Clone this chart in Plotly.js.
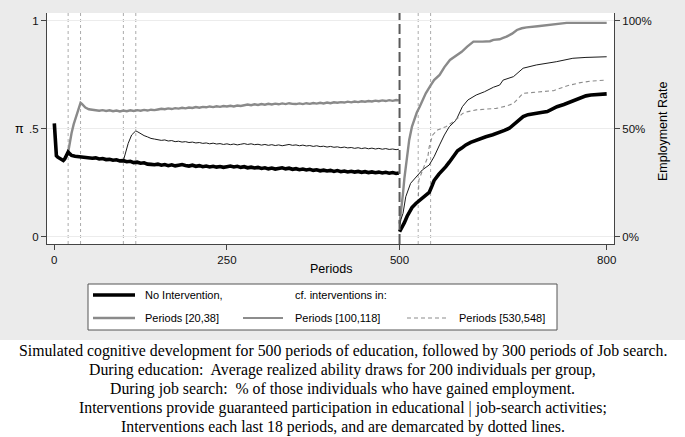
<!DOCTYPE html>
<html>
<head>
<meta charset="utf-8">
<script src="https://cdn.plot.ly/plotly-3.0.1.min.js"></script>
<style>html,body{margin:0;padding:0;background:#ffffff;}#chart{width:685px;height:437px;}</style>
</head>
<body>
<div id="chart"></div>
<script>
// ---------- DATA ----------
// Education phase (periods 0-499): average realized ability (pi)
const noIntEduX = [0,1,2,3,5,8,10,13,15,18,20,23,25,30,35,40,45,50,55,60,65,70,75,80,85,90,95,100,105,110,115,120,125,130,135,140,145,150,155,160,165,170,175,180,185,190,195,200,205,210,215,220,225,230,235,240,245,250,255,260,265,270,275,280,285,290,295,300,305,310,315,320,325,330,335,340,345,350,355,360,365,370,375,380,385,390,395,400,405,410,415,420,425,430,435,440,445,450,455,460,465,470,475,480,485,490,495,499];
const noIntEduY = [0.525,0.47,0.40,0.375,0.368,0.362,0.357,0.353,0.36,0.383,0.392,0.382,0.376,0.372,0.370,0.371,0.366,0.368,0.363,0.365,0.360,0.362,0.357,0.358,0.354,0.356,0.351,0.352,0.347,0.349,0.343,0.345,0.340,0.342,0.336,0.335,0.333,0.336,0.331,0.334,0.329,0.333,0.328,0.331,0.334,0.330,0.327,0.331,0.326,0.329,0.324,0.327,0.323,0.326,0.322,0.325,0.321,0.324,0.327,0.323,0.326,0.321,0.324,0.319,0.322,0.318,0.321,0.316,0.319,0.314,0.318,0.313,0.316,0.319,0.314,0.317,0.312,0.315,0.310,0.313,0.309,0.312,0.307,0.310,0.305,0.308,0.304,0.307,0.302,0.306,0.301,0.304,0.300,0.303,0.299,0.302,0.298,0.301,0.297,0.300,0.296,0.299,0.295,0.298,0.294,0.297,0.293,0.295];

const early20EduX = [20,22,25,28,31,34,37,38,40,43,45,50,55,60,65,70,75,80,85,90,95,100,105,110,115,120,125,130,135,140,145,150,155,160,165,170,175,180,185,190,195,200,205,210,215,220,225,230,235,240,245,250,255,260,265,270,275,280,285,290,295,300,305,310,315,320,325,330,335,340,345,350,355,360,365,370,375,380,385,390,395,400,405,410,415,420,425,430,435,440,445,450,455,460,465,470,475,480,485,490,495,499];
const early20EduY = [0.39,0.43,0.48,0.52,0.55,0.585,0.615,0.62,0.615,0.605,0.598,0.59,0.588,0.586,0.583,0.586,0.582,0.585,0.581,0.584,0.580,0.584,0.581,0.585,0.582,0.586,0.583,0.587,0.584,0.588,0.586,0.589,0.592,0.590,0.594,0.591,0.595,0.593,0.597,0.594,0.598,0.596,0.600,0.597,0.601,0.599,0.603,0.600,0.604,0.601,0.605,0.603,0.606,0.603,0.607,0.605,0.608,0.612,0.609,0.613,0.610,0.614,0.611,0.615,0.612,0.616,0.613,0.617,0.614,0.618,0.615,0.614,0.617,0.614,0.618,0.615,0.619,0.616,0.620,0.617,0.621,0.618,0.622,0.620,0.623,0.621,0.625,0.622,0.626,0.623,0.627,0.625,0.628,0.626,0.630,0.627,0.631,0.628,0.632,0.629,0.633,0.631];

const mid100EduX = [100,103,107,112,118,121,125,130,135,140,145,150,155,160,165,170,175,180,185,190,195,200,205,210,215,220,225,230,235,240,245,250,255,260,265,270,275,280,285,290,295,300,305,310,315,320,325,330,335,340,345,350,355,360,365,370,375,380,385,390,395,400,405,410,415,420,425,430,435,440,445,450,455,460,465,470,475,480,485,490,495,499];
const mid100EduY = [0.352,0.39,0.432,0.471,0.49,0.485,0.476,0.468,0.462,0.455,0.452,0.449,0.446,0.448,0.443,0.445,0.440,0.442,0.438,0.440,0.436,0.438,0.434,0.436,0.432,0.434,0.430,0.433,0.429,0.431,0.427,0.430,0.426,0.429,0.425,0.428,0.431,0.427,0.430,0.426,0.428,0.424,0.427,0.423,0.426,0.422,0.425,0.421,0.424,0.427,0.423,0.425,0.421,0.424,0.420,0.422,0.418,0.421,0.417,0.419,0.415,0.418,0.414,0.416,0.412,0.415,0.411,0.413,0.409,0.412,0.408,0.411,0.407,0.410,0.406,0.409,0.405,0.408,0.404,0.406,0.403,0.405];

// Job-search phase (periods 500-800): employment rate
const noIntJobX = [500,503,507,511,514,518,524,530,536,543,547,550,557,562,567,572,577,584,590,596,603,611,618,625,635,645,652,659,665,672,679,686,694,705,714,721,728,738,748,755,762,770,777,790,800];
const noIntJobY = [0.023,0.04,0.065,0.095,0.115,0.135,0.155,0.17,0.185,0.205,0.235,0.26,0.29,0.305,0.324,0.345,0.37,0.398,0.41,0.425,0.437,0.448,0.455,0.463,0.472,0.482,0.492,0.502,0.517,0.535,0.556,0.565,0.571,0.575,0.579,0.59,0.602,0.612,0.625,0.636,0.645,0.652,0.656,0.66,0.661];

const early20JobX = [500,502,505,507,510,514,518,521,525,529,534,538,545,550,558,565,573,581,590,598,607,620,631,636,645,650,655,663,670,677,684,700,713,728,742,800];
const early20JobY = [0.06,0.11,0.2,0.27,0.35,0.448,0.51,0.54,0.575,0.60,0.635,0.664,0.70,0.725,0.749,0.785,0.818,0.835,0.856,0.88,0.903,0.903,0.905,0.911,0.914,0.92,0.926,0.94,0.957,0.965,0.969,0.974,0.98,0.984,0.99,0.99];

const mid100JobX = [500,502,505,509,516,524,533,543,550,558,565,572,582,591,599,611,623,636,645,650,665,679,698,727,751,770,800];
const mid100JobY = [0.046,0.08,0.108,0.185,0.247,0.278,0.309,0.332,0.37,0.425,0.471,0.509,0.54,0.602,0.633,0.656,0.671,0.692,0.702,0.725,0.741,0.78,0.795,0.81,0.826,0.83,0.833];

const late530JobX = [527,528,533.5,541,543,548,555,567,574.5,584,591.5,599,611,625,640,655,665,679,700,723,742,760,776,800];
const late530JobY = [0.155,0.262,0.309,0.37,0.417,0.471,0.494,0.509,0.525,0.548,0.571,0.579,0.587,0.59,0.594,0.605,0.617,0.664,0.67,0.676,0.698,0.712,0.72,0.725];

// Intervention windows (dotted lines) and phase boundary
const interventionLines = [20,38,100,118,527,545];
const phaseBoundary = 500;

// Tick labels
const xTicks = [0,250,500,800];
const yTicks = [0,0.5,1];
const yTickLabels = ['0','.5','1'];
const y2TickLabels = ['0%','50%','100%'];

const legendRow1 = ['No Intervention,','cf. interventions in:'];
const legendRow2 = ['Periods [20,38]','Periods [100,118]','Periods [530,548]'];

const captionLines = [
  'Simulated cognitive development for 500 periods of education, followed by 300 periods of Job search.',
  'During education:  Average realized ability draws for 200 individuals per group,',
  'During job search:  % of those individuals who have gained employment.',
  'Interventions provide guaranteed participation in educational | job-search activities;',
  'Interventions each last 18 periods, and are demarcated by dotted lines.'
];

// ---------- LAYOUT HELPERS (pixel -> paper) ----------
const W = 685, H = 437;
const M = {l:47, r:71, t:13, b:193};
const PW = W - M.l - M.r, PH = H - M.t - M.b;
const px = x => (x - M.l) / PW;
const py = y => (M.t + PH - y) / PH;

const FONT = 'Liberation Sans, Arial, sans-serif';
const SERIF = 'Liberation Serif, Times New Roman, serif';

const cBlack = '#000000', cGray = '#8a8a8a', cThin = '#1a1a1a', cDash = '#8c8c8c';

const traces = [
  {x: early20EduX, y: early20EduY, mode:'lines', line:{color:cGray, width:2.4}, yaxis:'y', hoverinfo:'skip'},
  {x: mid100EduX, y: mid100EduY, mode:'lines', line:{color:cThin, width:1}, yaxis:'y', hoverinfo:'skip'},
  {x: noIntEduX, y: noIntEduY, mode:'lines', line:{color:cBlack, width:3.6}, yaxis:'y', hoverinfo:'skip'},
  {x: early20JobX, y: early20JobY, mode:'lines', line:{color:cGray, width:2.4}, yaxis:'y2', hoverinfo:'skip'},
  {x: mid100JobX, y: mid100JobY, mode:'lines', line:{color:cThin, width:1}, yaxis:'y2', hoverinfo:'skip'},
  {x: late530JobX, y: late530JobY, mode:'lines', line:{color:cDash, width:1.1, dash:'4px,3px'}, yaxis:'y2', hoverinfo:'skip'},
  {x: noIntJobX, y: noIntJobY, mode:'lines', line:{color:cBlack, width:3.6}, yaxis:'y2', hoverinfo:'skip'}
];

const shapes = [];
// white caption area
shapes.push({type:'rect', xref:'paper', yref:'paper', x0:px(0), x1:px(W), y0:py(340), y1:py(H+2), fillcolor:'#ffffff', line:{width:0}, layer:'below'});
// intervention dotted lines
interventionLines.forEach(v => shapes.push({type:'line', xref:'x', yref:'paper', x0:v, x1:v, y0:0, y1:1, line:{color:'#ababab', width:1, dash:'dot'}, layer:'between'}));
// phase boundary dashed
shapes.push({type:'line', xref:'x', yref:'paper', x0:phaseBoundary, x1:phaseBoundary, y0:0, y1:1, line:{color:'#5a5a5a', width:2, dash:'10px,4px'}, layer:'above'});
// legend box
shapes.push({type:'rect', xref:'paper', yref:'paper', x0:px(88), x1:px(557), y0:py(284), y1:py(330), fillcolor:'#ffffff', line:{color:'#555555', width:1}, layer:'below'});
// legend samples
shapes.push({type:'line', xref:'paper', yref:'paper', x0:px(93), x1:px(135), y0:py(295), y1:py(295), line:{color:cBlack, width:3.6}, layer:'below'});
shapes.push({type:'line', xref:'paper', yref:'paper', x0:px(93), x1:px(135), y0:py(318), y1:py(318), line:{color:cGray, width:2.4}, layer:'below'});
shapes.push({type:'line', xref:'paper', yref:'paper', x0:px(243), x1:px(283), y0:py(318), y1:py(318), line:{color:cThin, width:1}, layer:'below'});
shapes.push({type:'line', xref:'paper', yref:'paper', x0:px(407), x1:px(447), y0:py(318), y1:py(318), line:{color:cDash, width:1.1, dash:'4px,3px'}, layer:'below'});

const ann = [];
const legFont = {family:FONT, size:11, color:'#000'};
ann.push({xref:'paper', yref:'paper', x:px(143), y:py(295), xanchor:'left', yanchor:'middle', text:legendRow1[0], showarrow:false, font:legFont});
ann.push({xref:'paper', yref:'paper', x:px(293), y:py(295), xanchor:'left', yanchor:'middle', text:legendRow1[1], showarrow:false, font:legFont});
ann.push({xref:'paper', yref:'paper', x:px(143), y:py(318), xanchor:'left', yanchor:'middle', text:legendRow2[0], showarrow:false, font:legFont});
ann.push({xref:'paper', yref:'paper', x:px(293), y:py(318), xanchor:'left', yanchor:'middle', text:legendRow2[1], showarrow:false, font:legFont});
ann.push({xref:'paper', yref:'paper', x:px(457), y:py(318), xanchor:'left', yanchor:'middle', text:legendRow2[2], showarrow:false, font:legFont});
// axis titles
ann.push({xref:'paper', yref:'paper', x:px(330.5), y:py(269), xanchor:'center', yanchor:'middle', text:'Periods', showarrow:false, font:{family:FONT, size:12.5, color:'#000'}});
ann.push({xref:'paper', yref:'paper', x:px(19), y:py(128.5), xanchor:'center', yanchor:'middle', text:'π', showarrow:false, font:{family:FONT, size:12.5, color:'#000'}});
ann.push({xref:'paper', yref:'paper', x:px(663), y:py(132), xanchor:'center', yanchor:'middle', text:'Employment Rate', textangle:-90, showarrow:false, font:{family:FONT, size:12.5, color:'#000'}});
// caption
const capY = [351, 370, 389, 408, 427];
captionLines.forEach((t,i) => ann.push({xref:'paper', yref:'paper', x:px(342.5), y:py(capY[i]), xanchor:'center', yanchor:'middle', text:t, showarrow:false, font:{family:SERIF, size:15.8, color:'#000'}}));

const axisCommon = {showline:true, linecolor:'#444', linewidth:1, ticks:'outside', ticklen:5, tickcolor:'#444', tickwidth:1, zeroline:false, tickfont:{family:FONT, size:11.5, color:'#111'}, fixedrange:true};
const yRange = [-0.0338, 1.0356];

const layout = {
  width:W, height:H,
  margin:M,
  paper_bgcolor:'#ebebeb',
  plot_bgcolor:'#ffffff',
  showlegend:false,
  xaxis: Object.assign({}, axisCommon, {range:[-10.6, 810.6], tickvals:xTicks, ticktext:xTicks.map(String), showgrid:false}),
  yaxis: Object.assign({}, axisCommon, {range:yRange, tickvals:yTicks, ticktext:yTickLabels, showgrid:true, gridcolor:'#ececec', gridwidth:1}),
  yaxis2: Object.assign({}, axisCommon, {range:yRange, tickvals:yTicks, ticktext:y2TickLabels, overlaying:'y', side:'right', showgrid:false}),
  shapes: shapes,
  annotations: ann
};

Plotly.newPlot('chart', traces, layout, {staticPlot:true, displayModeBar:false});
</script>
</body>
</html>
